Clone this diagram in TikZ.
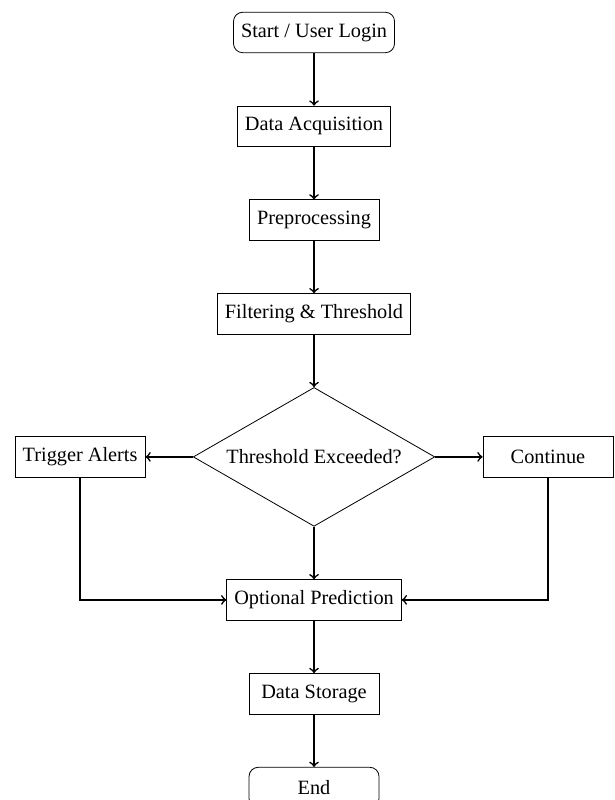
\documentclass[tikz,border=0pt]{standalone}
\usepackage{fontspec}
\setmainfont{Liberation Serif}
\usetikzlibrary{positioning,shapes.geometric}
\tikzset{procbox/.style={draw,rectangle,minimum width=2.25cm,minimum height=0.7cm,inner sep=3.7pt},
  termbox/.style={procbox,rounded corners=4.5pt},
  decbox/.style={draw,diamond,aspect=1.74,minimum width=119pt,minimum height=68.4pt,inner sep=1pt},
  flow/.style={->,thick}}
\begin{document}
\begin{tikzpicture}[node distance=9.1mm]
  \useasboundingbox (-154.7pt,0) rectangle (147.8pt,-394.1pt);

  % main chain
  \node (start) [termbox] at (0,-16pt) {Start / User Login};
  \node (acq) [procbox,below=of start] {Data Acquisition};
  \node (pre) [procbox,below=of acq] {Preprocessing};
  \node (filt) [procbox,below=of pre] {Filtering \& Threshold};
  \node (dec) [decbox,below=of filt] {Threshold Exceeded?};
  \node (alert) [procbox,left=8.2mm of dec] {Trigger Alerts};
  \node (cont) [procbox,right=8.2mm of dec] {Continue};
  \node (pred) [procbox,below=of dec] {Optional Prediction};
  \node (store) [procbox,below=of pred] {Data Storage};
  \node (stop) [termbox,below=of store] {End};

  % arrows
  \foreach \a/\b in {start/acq, acq/pre, pre/filt, filt/dec, dec/pred, pred/store, store/stop}
    {\draw[flow] (\a)--(\b);}
  \draw[flow] (dec)--(alert);
  \draw[flow] (dec)--(cont);
  \draw[flow] (alert) |- (pred);
  \draw[flow] (cont) |- (pred);
\end{tikzpicture}
\end{document}
